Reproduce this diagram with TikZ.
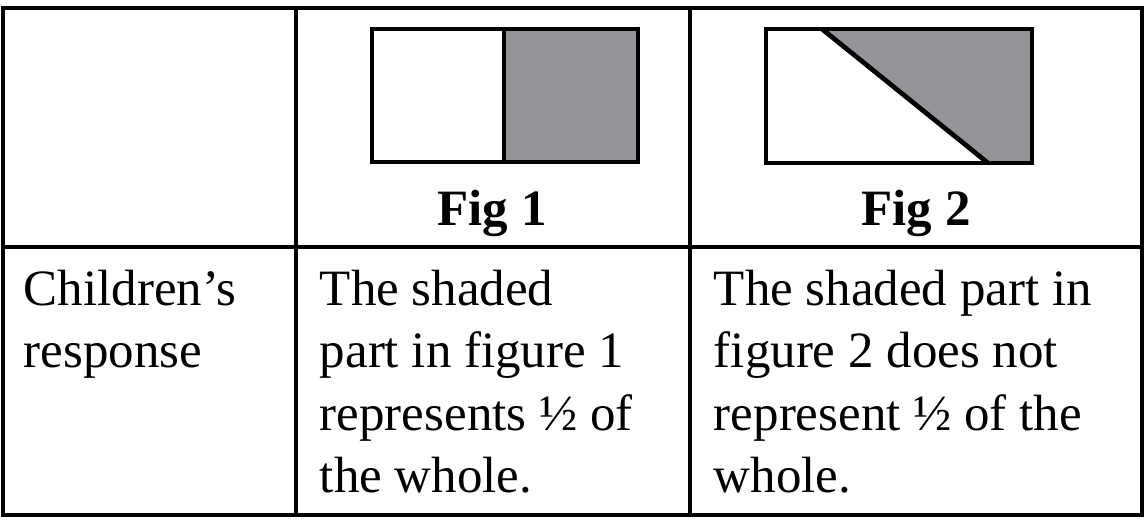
\documentclass[tikz,border=0pt]{standalone}
\usepackage{fontspec}
\setmainfont{Liberation Serif}
\usepackage{tikz}
\usetikzlibrary{positioning}
\definecolor{myshade}{RGB}{148,149,153}
\tikzstyle{cell}=[anchor=north west,align=left,inner sep=0pt,font=\fontsize{29}{35.5}\selectfont]
\tikzstyle{figlabel}=[inner sep=0pt,font=\fontsize{29}{35}\selectfont\bfseries]
\tikzstyle{figline}=[line width=2.7pt,line join=miter]
\begin{document}
\begin{tikzpicture}[x=0.02cm,y=-0.02cm,line width=2.2pt]
\useasboundingbox (0,0) rectangle (1147,520);
% table
\draw (3,8) rectangle (1142,515);
\draw (296,8) -- (296,515);
\draw (690,8) -- (690,515);
\draw (3,247) -- (1142,247);
% figure 1
\fill[myshade] (504,29) rectangle (638,162);
\draw[figline] (372,29) rectangle (638,162);
\draw[figline] (504,29) -- (504,162);
\node[figlabel] (fig1) at (492,213) {Fig 1};
% figure 2
\fill[myshade] (822,29) -- (1032,29) -- (1032,163) -- (988,163) -- cycle;
\draw[figline] (766,29) rectangle (1032,163);
\draw[figline] (822,29) -- (988,163);
\node[figlabel] (fig2) at (916,213) {Fig 2};
% responses
\node[cell] (resp) at (22,268) {Children’s\\response};
\node[cell] (ans1) at (318,268) {The shaded\\part in figure 1\\represents ½ of\\the whole.};
\node[cell] (ans2) at (712,268) {The shaded part in\\figure 2 does not\\represent ½ of the\\whole.};
\end{tikzpicture}
\end{document}
